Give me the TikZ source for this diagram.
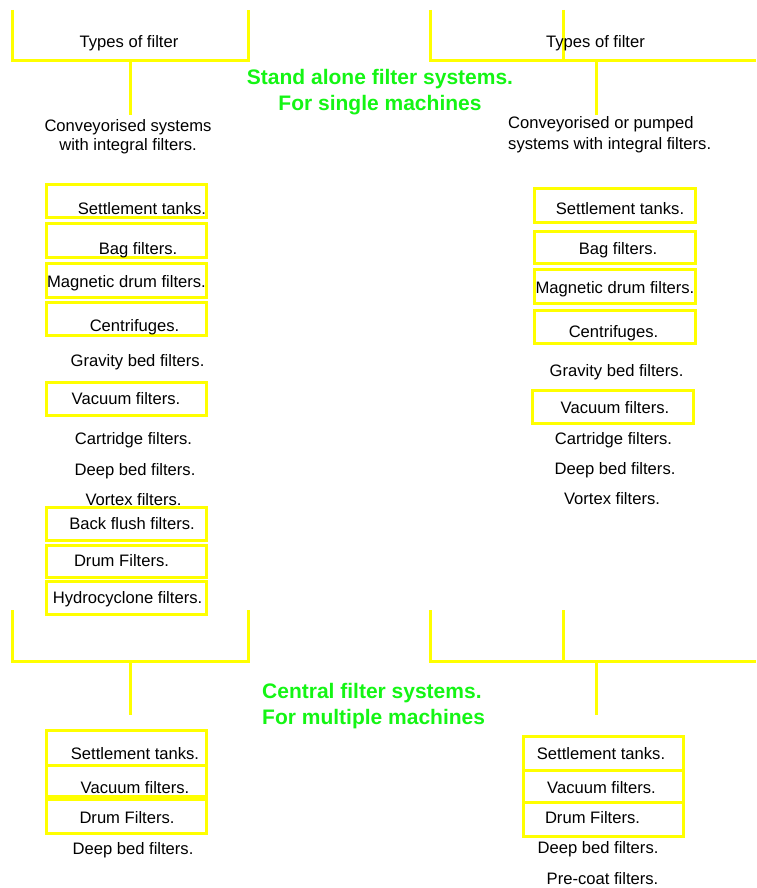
\documentclass[tikz,border=0pt]{standalone}
\usepackage{fontspec}
\setmainfont{Liberation Sans}
\definecolor{brightyellow}{RGB}{255,255,0}
\definecolor{brightgreen}{RGB}{20,245,20}

\begin{document}
\begin{tikzpicture}[x=1pt, y=-1pt,
    bar/.style={brightyellow, line width=3pt},
    fbox/.style={brightyellow, line width=3pt},
    item/.style={inner sep=0pt, font=\fontsize{16.6}{19}\selectfont, text height=12pt, text depth=3.5pt},
    heading/.style={inner sep=0pt, text=brightgreen, font=\fontsize{21}{26}\selectfont\bfseries}]
    \useasboundingbox (0,0) rectangle (756,888);

    \draw[bar] (12,10) -- (12,61) -- (248,61) -- (248,10);
    \draw[bar] (430,10) -- (430,61) -- (756,61);
    \draw[bar] (563,10) -- (563,61);
    \draw[bar] (12,610) -- (12,661) -- (248,661) -- (248,610);
    \draw[bar] (430,610) -- (430,661) -- (756,661);
    \draw[bar] (563,610) -- (563,661);

    \foreach \ya/\yb in {184/217, 223/257, 263/297, 302/335, 382/415, 507/540, 545/577, 581/614, 730/765, 765/796, 799/833} {
        \draw[fbox] (46,\ya) rectangle (206,\yb);
    }
    \foreach \ya/\yb in {188/222, 231/263, 269/303, 310/343} {
        \draw[fbox] (534,\ya) rectangle (695,\yb);
    }
    \draw[fbox] (532,390) rectangle (693,423);
    \foreach \ya/\yb in {736/770, 770/802, 802/836} {
        \draw[fbox] (523,\ya) rectangle (683,\yb);
    }

    \foreach \n/\x/\y/\t in {ltypes/129/43/Types of filter, lsettle/142/210/Settlement tanks.,
        lbag/138/250/Bag filters., lmag/126.5/283/Magnetic drum filters., lcentri/134.5/327/Centrifuges.,
        lgravity/137.5/362/Gravity bed filters., lvacuum/126/400/Vacuum filters., lcart/133.5/440/Cartridge filters.,
        ldeep/135/471/Deep bed filters., lvortex/133.5/501/Vortex filters., lback/132/525/Back flush filters.,
        ldrum/121.5/562/Drum Filters., lhydro/127.5/599/Hydrocyclone filters.,
        rtypes/595.5/43/Types of filter, rsettle/620/210/Settlement tanks., rbag/618/250/Bag filters.,
        rmag/615/289/Magnetic drum filters., rcentri/613.5/333/Centrifuges., rgravity/616.5/372/Gravity bed filters.,
        rvacuum/615/409/Vacuum filters., rcart/613.5/440/Cartridge filters., rdeep/615/470/Deep bed filters.,
        rvortex/612/500/Vortex filters.,
        blsettle/135/755/Settlement tanks., blvacuum/135/789/Vacuum filters., bldrum/127/819/Drum Filters.,
        bldeep/133/850/Deep bed filters.,
        brsettle/601/755/Settlement tanks., brvacuum/601.5/789/Vacuum filters., brdrum/592.5/819/Drum Filters.,
        brdeep/598/849/Deep bed filters., brprecoat/602.5/880/Pre-coat filters.} {
        \node[item] (\n) at (\x,\y) {\t};
    }

    \node[item, align=center] (lconv) at (128,146) {Conveyorised systems\\with integral filters.};
    \node[item, align=left, anchor=west, font=\fontsize{16.6}{21}\selectfont] (rconv) at (508,145) {Conveyorised or pumped\\systems with integral filters.};

    \node[heading, align=center] (standalone) at (380,92) {Stand alone filter systems.\\For single machines};
    \node[heading, align=left, anchor=west] (central) at (262,706) {Central filter systems.\\For multiple machines};

    \coordinate (ljoin) at (130,61);
    \coordinate (rjoin) at (596,61);
    \coordinate (lmid) at (130,661);
    \coordinate (rmid) at (596,661);
    \coordinate (lend) at (130,115);
    \coordinate (rend) at (596,115);
    \coordinate (lbot) at (130,715);
    \coordinate (rbot) at (596,715);
    \draw[bar] (ljoin) -- (lend);
    \draw[bar] (rjoin) -- (rend);
    \draw[bar] (lmid) -- (lbot);
    \draw[bar] (rmid) -- (rbot);
\end{tikzpicture}
\end{document}
